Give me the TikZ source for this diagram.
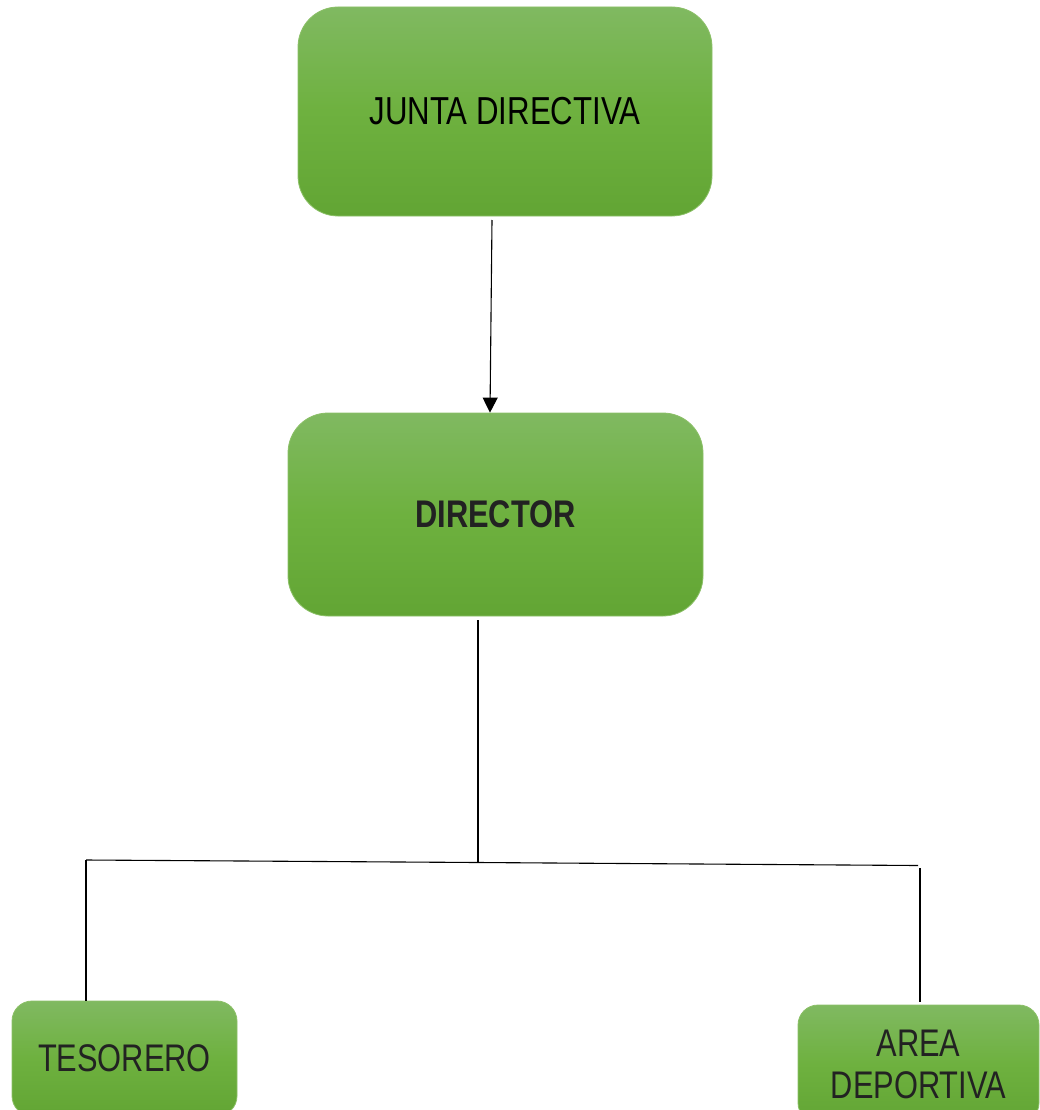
\documentclass[tikz,border=0pt]{standalone}
\usepackage{fontspec}
\setmainfont{Liberation Sans}[FakeStretch=0.8]
\usetikzlibrary{arrows.meta}
\definecolor{gtop}{HTML}{80B961}
\definecolor{gmid}{HTML}{6EB13F}
\definecolor{gbot}{HTML}{62A534}
\definecolor{boxedge}{HTML}{8CC068}
\definecolor{txt}{HTML}{222222}
\begin{document}
\begin{tikzpicture}[x=1pt,y=-1pt,
  box/.style={draw=boxedge, line width=0.8pt, top color=gtop, bottom color=gbot, middle color=gmid, inner sep=0pt, text=txt, align=center},
  bigbox/.style={box, rounded corners=40pt},
  smallbox/.style={box, rounded corners=20pt},
  conn/.style={line width=1.1pt, black},
  bigtext/.style={font=\fontsize{39}{44}\selectfont},
  midtext/.style={font=\fontsize{38.5}{42}\selectfont}]
\useasboundingbox (0,0) rectangle (1040,1110);
\node[bigbox, minimum width=414pt, minimum height=209pt, bigtext, text=black] (junta) at (505,111.5) {JUNTA DIRECTIVA};
\node[bigbox, minimum width=415pt, minimum height=203pt, font=\fontsize{38.5}{42}\selectfont\bfseries] (director) at (495.5,514.5) {DIRECTOR};
\node[smallbox, minimum width=225pt, minimum height=115pt, midtext] (tesorero) at (124.5,1058.5) {TESORERO};
\node[smallbox, minimum width=241pt, minimum height=118pt, midtext] (area) at (918.5,1064) {AREA\\DEPORTIVA};
\coordinate (jout) at (492,220);
\coordinate (dout) at (478,620);
\coordinate (hmid) at (478,862.5);
\coordinate (hleft) at (86,860);
\coordinate (hright) at (918,865.5);
\coordinate (rtop) at (920,868);
\coordinate (tin) at (86,1001);
\coordinate (ain) at (920,1002);
\draw[conn, -{Triangle[width=15pt,length=15pt]}] (jout) -- (director.north -| 490,0);
\draw[conn] (dout) -- (hmid);
\draw[conn] (hleft) -- (hmid) -- (hright);
\draw[conn] (hleft) -- (tin);
\draw[conn] (rtop) -- (ain);
\end{tikzpicture}
\end{document}
